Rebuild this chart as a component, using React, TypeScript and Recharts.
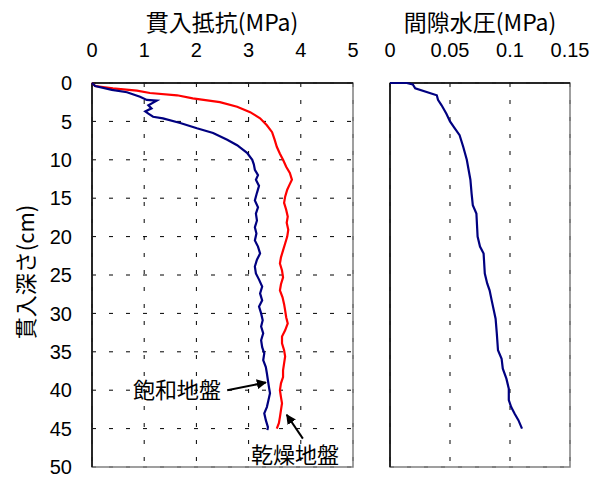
import React from "react";
import {
  ScatterChart,
  Scatter,
  XAxis,
  YAxis,
  CartesianGrid,
  ReferenceArea,
  ReferenceLine,
  ReferenceDot,
} from "recharts";

// 貫入抵抗 — 乾燥地盤 (red)
const dryDepth = [
  0, 0.4, 0.7, 1.0, 1.3, 1.6, 2.0, 2.5, 3.1, 3.8, 4.6, 5.5, 6.4, 7.4, 8.3, 9.2,
  10.0, 10.9, 11.7, 12.6, 13.3, 13.9, 14.8, 15.6, 16.5, 17.4, 18.2, 19.1, 20.0,
  20.9, 21.8, 22.7, 23.5, 24.4, 25.3, 26.2, 27.0, 27.9, 28.8, 29.6, 30.5, 31.3,
  32.2, 33.0, 33.9, 34.8, 35.6, 36.5, 37.4, 38.3, 39.1, 40.0, 40.9, 41.7, 42.6,
  43.5, 44.3, 45.0,
];
const dryResistance = [
  0, 0.06, 0.4, 0.86, 1.11, 1.63, 1.93, 2.45, 2.78, 3.03, 3.22, 3.35, 3.45, 3.5,
  3.54, 3.6, 3.66, 3.72, 3.79, 3.83, 3.78, 3.74, 3.7, 3.68, 3.72, 3.75, 3.73,
  3.76, 3.74, 3.7, 3.66, 3.62, 3.6, 3.64, 3.66, 3.62, 3.6, 3.65, 3.68, 3.7, 3.72,
  3.75, 3.7, 3.64, 3.64, 3.68, 3.7, 3.68, 3.66, 3.66, 3.62, 3.6, 3.62, 3.64,
  3.62, 3.6, 3.58, 3.54,
];

// 貫入抵抗 — 飽和地盤 (navy)
const satDepth = [
  0, 0.4, 0.9, 1.2, 1.8, 2.2, 2.3, 2.9, 3.3, 3.7, 4.0, 4.4, 4.6, 5.2, 5.9, 6.5,
  7.4, 8.1, 9.1, 10.0, 10.6, 11.3, 12.0, 12.6, 13.4, 14.3, 15.3, 16.2, 17.0,
  17.9, 18.8, 19.6, 20.5, 21.3, 22.2, 23.0, 23.9, 24.8, 25.6, 26.5, 27.4, 28.3,
  29.1, 30.0, 30.9, 31.7, 32.6, 33.5, 34.4, 35.2, 36.1, 37.0, 37.8, 38.7, 39.6,
  40.4, 41.3, 42.2, 43.0, 43.9, 44.8, 45.2,
];
const satResistance = [
  0, 0.06, 0.38, 0.67, 0.92, 1.05, 1.24, 1.08, 1.14, 1.02, 1.08, 1.17, 1.36,
  1.69, 2.01, 2.32, 2.59, 2.78, 2.97, 3.07, 3.1, 3.12, 3.18, 3.14, 3.2, 3.16,
  3.12, 3.18, 3.14, 3.16, 3.12, 3.15, 3.12, 3.18, 3.22, 3.16, 3.12, 3.14, 3.2,
  3.26, 3.22, 3.26, 3.2, 3.24, 3.27, 3.24, 3.28, 3.24, 3.26, 3.3, 3.28, 3.33,
  3.35, 3.37, 3.39, 3.41, 3.38, 3.35, 3.3, 3.33, 3.37, 3.36,
];

// 間隙水圧
const poreDepth = [
  0, 0, 0.2, 0.7, 1.6, 2.2, 2.9, 4.0, 5.0, 5.9, 6.8, 8.3, 10.0, 12.6, 14.4, 15.9,
  17.0, 20.0, 21.3, 22.2, 24.8, 26.1, 27.0, 28.5, 30.7, 32.6, 34.8, 35.9, 37.2,
  38.5, 39.8, 41.3, 42.2, 43.1, 43.9, 45.0,
];
const porePressure = [
  0, 0.014, 0.019, 0.021, 0.039, 0.04, 0.043, 0.047, 0.05, 0.054, 0.058, 0.061,
  0.064, 0.067, 0.068, 0.069, 0.072, 0.073, 0.075, 0.078, 0.079, 0.081, 0.083,
  0.085, 0.088, 0.089, 0.09, 0.093, 0.094, 0.097, 0.099, 0.099, 0.101, 0.104,
  0.107, 0.11,
];

const depthTicks = [0, 5, 10, 15, 20, 25, 30, 35, 40, 45, 50];
const resistanceTicks = [0, 1, 2, 3, 4, 5];
const pressureTicks = [0, 0.05, 0.1, 0.15];

const dryData = dryDepth.map((d, i) => ({ x: dryResistance[i], y: d }));
const satData = satDepth.map((d, i) => ({ x: satResistance[i], y: d }));
const poreData = poreDepth.map((d, i) => ({ x: porePressure[i], y: d }));

const NUM_FONT = "'Liberation Sans', Arial, sans-serif";
const JP_FONT = "'Noto Sans CJK JP', sans-serif";
const tickStyle = { fontSize: 20, fill: "#000", fontFamily: NUM_FONT };
const noDot = () => <g />;

const titleStyle: React.CSSProperties = {
  position: "absolute",
  fontFamily: JP_FONT,
  fontSize: 23,
  color: "#000",
  whiteSpace: "nowrap",
  transform: "translate(-50%, -50%)",
  lineHeight: 1,
};

const noteLabel = (value: string) => ({
  value,
  position: "center" as const,
  fontSize: 22,
  fill: "#000",
  fontFamily: JP_FONT,
});

export default function App() {
  return (
    <div
      style={{
        position: "absolute",
        left: 0,
        top: 0,
        width: 608,
        height: 479,
        background: "#fff",
      }}
    >
      <div style={{ ...titleStyle, left: 222, top: 21 }}>貫入抵抗(MPa)</div>
      <div style={{ ...titleStyle, left: 480, top: 21 }}>間隙水圧(MPa)</div>
      <div
        style={{
          ...titleStyle,
          fontSize: 22,
          left: 24,
          top: 272,
          transform: "translate(-50%, -50%) rotate(-90deg)",
        }}
      >
        貫入深さ(cm)
      </div>

      <div style={{ position: "absolute", left: 0, top: 0 }}>
        <ScatterChart
          width={370}
          height={479}
          margin={{ top: 0, right: 17, bottom: 12, left: 0 }}
        >
          <defs>
            <marker
              id="arrowHead"
              viewBox="0 0 10 10"
              refX="9"
              refY="5"
              markerWidth="5"
              markerHeight="5"
              orient="auto"
            >
              <path d="M0,0 L10,5 L0,10 z" fill="#000" />
            </marker>
          </defs>
          <CartesianGrid stroke="#000" strokeDasharray="4 13" />
          <ReferenceArea
            x1={0}
            x2={5}
            y1={0}
            y2={50}
            fill="none"
            stroke="#808080"
            strokeWidth={1.5}
          />
          <XAxis
            type="number"
            dataKey="x"
            orientation="top"
            domain={[0, 5]}
            ticks={resistanceTicks}
            height={83}
            tickLine={false}
            tickMargin={20}
            fontSize={20}
            axisLine={{ stroke: "#000", strokeWidth: 1.5 }}
            tick={tickStyle}
          />
          <YAxis
            type="number"
            dataKey="y"
            domain={[0, 50]}
            reversed
            ticks={depthTicks}
            width={92}
            tickLine={false}
            tickMargin={14}
            fontSize={20}
            axisLine={{ stroke: "#000", strokeWidth: 1.5 }}
            tick={tickStyle}
          />
          <Scatter
            data={dryData}
            fill="#ff0000"
            line={{ stroke: "#ff0000", strokeWidth: 2.2 }}
            shape={noDot}
            isAnimationActive={false}
          />
          <Scatter
            data={satData}
            fill="#000080"
            line={{ stroke: "#000080", strokeWidth: 2.2 }}
            shape={noDot}
            isAnimationActive={false}
          />
          <ReferenceLine
            segment={[
              { x: 2.59, y: 40.0 },
              { x: 3.33, y: 39.0 },
            ]}
            stroke="#000"
            strokeWidth={2}
            markerEnd="url(#arrowHead)"
          />
          <ReferenceLine
            segment={[
              { x: 4.04, y: 46.3 },
              { x: 3.73, y: 43.2 },
            ]}
            stroke="#000"
            strokeWidth={2}
            markerEnd="url(#arrowHead)"
          />
          <ReferenceDot
            x={1.63}
            y={40.0}
            r={0}
            stroke="none"
            label={noteLabel("飽和地盤")}
          />
          <ReferenceDot
            x={3.89}
            y={48.5}
            r={0}
            stroke="none"
            label={noteLabel("乾燥地盤")}
          />
        </ScatterChart>
      </div>

      <div style={{ position: "absolute", left: 370, top: 0 }}>
        <ScatterChart
          width={238}
          height={479}
          margin={{ top: 0, right: 38, bottom: 12, left: 0 }}
        >
          <CartesianGrid stroke="#000" strokeDasharray="4 13" />
          <ReferenceArea
            x1={0}
            x2={0.15}
            y1={0}
            y2={50}
            fill="none"
            stroke="#808080"
            strokeWidth={1.5}
          />
          <XAxis
            type="number"
            dataKey="x"
            orientation="top"
            domain={[0, 0.15]}
            ticks={pressureTicks}
            height={83}
            tickLine={false}
            tickMargin={20}
            fontSize={20}
            axisLine={{ stroke: "#000", strokeWidth: 1.5 }}
            tick={tickStyle}
          />
          <YAxis
            type="number"
            dataKey="y"
            domain={[0, 50]}
            reversed
            ticks={depthTicks}
            width={20}
            tick={false}
            tickLine={false}
            axisLine={{ stroke: "#000", strokeWidth: 1.5 }}
          />
          <Scatter
            data={poreData}
            fill="#000080"
            line={{ stroke: "#000080", strokeWidth: 2.2 }}
            shape={noDot}
            isAnimationActive={false}
          />
        </ScatterChart>
      </div>
    </div>
  );
}
